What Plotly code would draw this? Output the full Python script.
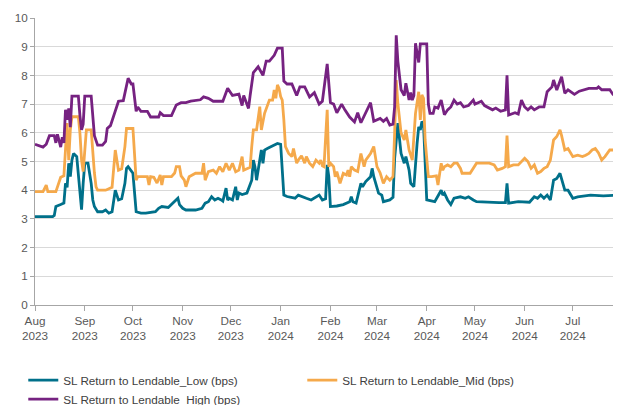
import plotly.graph_objects as go

# ---- data ----
dates_low = ["2023-08-01","2023-08-08","2023-08-12","2023-08-13","2023-08-14","2023-08-17","2023-08-19","2023-08-20","2023-08-21","2023-08-22","2023-08-23","2023-08-24","2023-08-25","2023-08-27","2023-08-28","2023-08-29","2023-08-30","2023-08-31","2023-09-01","2023-09-03","2023-09-05","2023-09-06","2023-09-07","2023-09-09","2023-09-12","2023-09-14","2023-09-16","2023-09-18","2023-09-20","2023-09-22","2023-09-24","2023-09-26","2023-09-27","2023-09-28","2023-09-30","2023-10-01","2023-10-03","2023-10-06","2023-10-09","2023-10-12","2023-10-15","2023-10-17","2023-10-19","2023-10-23","2023-10-26","2023-10-28","2023-10-29","2023-10-30","2023-11-01","2023-11-03","2023-11-09","2023-11-13","2023-11-15","2023-11-17","2023-11-19","2023-11-21","2023-11-23","2023-11-25","2023-11-26","2023-11-28","2023-11-29","2023-11-30","2023-12-02","2023-12-04","2023-12-05","2023-12-06","2023-12-08","2023-12-11","2023-12-14","2023-12-15","2023-12-16","2023-12-17","2023-12-19","2023-12-20","2023-12-21","2023-12-22","2023-12-24","2023-12-26","2023-12-28","2023-12-30","2024-01-01","2024-01-02","2024-01-03","2024-01-05","2024-01-10","2024-01-12","2024-01-14","2024-01-17","2024-01-20","2024-01-22","2024-01-25","2024-01-27","2024-01-29","2024-01-30","2024-01-31","2024-02-01","2024-02-05","2024-02-09","2024-02-13","2024-02-14","2024-02-15","2024-02-17","2024-02-20","2024-02-21","2024-02-23","2024-02-26","2024-02-27","2024-02-28","2024-03-01","2024-03-02","2024-03-04","2024-03-05","2024-03-09","2024-03-11","2024-03-12","2024-03-13","2024-03-14","2024-03-16","2024-03-18","2024-03-19","2024-03-21","2024-03-22","2024-03-24","2024-03-26","2024-03-27","2024-03-28","2024-03-29","2024-03-30","2024-03-31","2024-04-01","2024-04-06","2024-04-10","2024-04-11","2024-04-12","2024-04-14","2024-04-16","2024-04-18","2024-04-22","2024-04-25","2024-04-27","2024-04-30","2024-05-02","2024-05-16","2024-05-20","2024-05-21","2024-05-22","2024-05-28","2024-06-04","2024-06-07","2024-06-09","2024-06-11","2024-06-13","2024-06-15","2024-06-17","2024-06-19","2024-06-21","2024-06-23","2024-06-24","2024-06-25","2024-06-26","2024-06-28","2024-07-01","2024-07-04","2024-07-12","2024-07-20","2024-07-30","2024-07-31"]
low = [3.08,3.08,3.08,3.12,3.43,3.5,3.55,4.24,4.1,4.94,4.47,5.05,5.28,5.17,4.59,3.9,3.32,4.24,4.94,4.94,4.24,3.66,3.43,3.25,3.25,3.31,3.2,3.25,4.0,3.66,3.7,4.24,4.76,4.82,4.65,4.59,3.25,3.2,3.2,3.22,3.25,3.37,3.43,3.4,3.55,3.66,3.72,3.5,3.37,3.31,3.31,3.37,3.55,3.6,3.77,3.66,3.72,3.66,3.62,4.07,3.66,3.72,3.66,4.12,3.66,3.9,3.85,3.9,4.35,5.05,4.82,4.35,5.17,5.4,4.94,5.4,5.46,5.52,5.57,5.63,5.6,4.7,3.83,3.78,3.72,3.83,3.78,3.72,3.66,3.72,3.83,3.66,3.7,4.88,4.47,3.43,3.45,3.5,3.6,3.77,3.6,3.55,4.24,4.12,4.3,4.47,4.76,4.47,4.12,3.9,3.83,3.6,3.66,3.75,5.1,5.8,6.34,5.28,4.94,5.17,4.7,4.24,4.12,5.63,6.21,6.1,6.39,6.3,4.59,3.66,3.6,4.0,3.83,3.9,3.66,3.5,3.72,3.77,3.72,3.77,3.66,3.6,3.57,3.57,4.24,3.55,3.6,3.58,3.77,3.72,3.83,3.72,3.83,3.66,4.35,4.41,4.59,4.4,4.24,4.0,4.0,3.72,3.77,3.83,3.8,3.83,3.83]

dates_mid = ["2023-08-01","2023-08-06","2023-08-08","2023-08-09","2023-08-14","2023-08-17","2023-08-19","2023-08-20","2023-08-21","2023-08-22","2023-08-23","2023-08-24","2023-08-28","2023-08-29","2023-08-30","2023-08-31","2023-09-01","2023-09-02","2023-09-05","2023-09-06","2023-09-07","2023-09-08","2023-09-09","2023-09-14","2023-09-18","2023-09-20","2023-09-22","2023-09-24","2023-09-26","2023-09-27","2023-10-01","2023-10-03","2023-10-04","2023-10-10","2023-10-11","2023-10-12","2023-10-14","2023-10-16","2023-10-18","2023-10-19","2023-10-20","2023-10-25","2023-10-27","2023-10-28","2023-10-30","2023-10-31","2023-11-02","2023-11-03","2023-11-05","2023-11-09","2023-11-13","2023-11-14","2023-11-15","2023-11-17","2023-11-20","2023-11-22","2023-11-24","2023-11-26","2023-11-28","2023-11-30","2023-12-02","2023-12-04","2023-12-06","2023-12-08","2023-12-09","2023-12-11","2023-12-13","2023-12-14","2023-12-15","2023-12-17","2023-12-18","2023-12-19","2023-12-20","2023-12-21","2023-12-22","2023-12-25","2023-12-27","2023-12-28","2023-12-29","2023-12-30","2023-12-31","2024-01-01","2024-01-02","2024-01-03","2024-01-04","2024-01-06","2024-01-08","2024-01-09","2024-01-11","2024-01-12","2024-01-14","2024-01-16","2024-01-17","2024-01-19","2024-01-21","2024-01-23","2024-01-25","2024-01-26","2024-01-27","2024-01-28","2024-01-30","2024-01-31","2024-02-01","2024-02-03","2024-02-04","2024-02-05","2024-02-07","2024-02-09","2024-02-11","2024-02-12","2024-02-13","2024-02-14","2024-02-16","2024-02-18","2024-02-20","2024-02-22","2024-02-23","2024-02-26","2024-02-28","2024-03-01","2024-03-03","2024-03-05","2024-03-07","2024-03-09","2024-03-11","2024-03-12","2024-03-13","2024-03-14","2024-03-16","2024-03-18","2024-03-19","2024-03-21","2024-03-23","2024-03-25","2024-03-27","2024-03-28","2024-03-29","2024-03-30","2024-03-31","2024-04-02","2024-04-04","2024-04-07","2024-04-08","2024-04-10","2024-04-11","2024-04-12","2024-04-14","2024-04-16","2024-04-18","2024-04-20","2024-04-22","2024-04-23","2024-04-28","2024-05-02","2024-05-06","2024-05-10","2024-05-13","2024-05-15","2024-05-18","2024-05-20","2024-05-21","2024-05-22","2024-05-25","2024-05-28","2024-06-01","2024-06-03","2024-06-05","2024-06-07","2024-06-09","2024-06-11","2024-06-13","2024-06-15","2024-06-17","2024-06-19","2024-06-21","2024-06-23","2024-06-24","2024-06-26","2024-06-28","2024-07-01","2024-07-04","2024-07-07","2024-07-09","2024-07-11","2024-07-13","2024-07-15","2024-07-17","2024-07-19","2024-07-21","2024-07-24","2024-07-27","2024-07-30","2024-07-31"]
mid = [3.95,3.95,4.18,3.95,3.95,4.45,4.5,5.3,6.34,5.05,6.1,6.56,6.56,5.98,5.05,4.65,5.28,6.1,6.1,5.28,4.6,4.12,4.0,4.0,4.1,5.4,4.7,4.75,5.52,6.15,6.15,4.35,4.47,4.47,4.18,4.47,4.45,4.25,4.53,4.18,4.47,4.47,4.6,4.82,4.82,4.5,4.35,4.12,4.47,4.59,4.59,4.94,4.35,4.65,4.7,4.59,4.82,4.64,4.94,4.7,4.94,4.64,4.7,5.17,4.7,4.75,4.8,5.52,6.1,6.1,6.45,6.91,6.1,6.45,6.68,7.14,7.14,7.49,7.2,7.67,7.55,7.26,7.14,6.45,5.52,5.28,5.17,5.45,4.94,5.05,5.2,4.94,5.17,4.94,4.82,5.05,4.94,5.05,4.85,4.82,6.8,4.82,4.94,4.82,4.47,4.65,4.24,4.59,4.53,4.7,4.47,4.82,4.7,4.65,5.28,4.82,5.05,5.28,5.52,4.82,4.6,4.24,4.47,4.35,4.47,5.98,7.84,7.03,6.0,5.75,6.1,5.4,5.05,6.68,7.43,6.45,7.32,7.2,5.75,4.47,4.47,4.5,4.18,4.94,4.7,4.82,4.88,4.82,4.94,4.94,4.76,4.59,4.59,4.94,4.94,4.94,4.88,4.7,4.76,4.82,5.9,4.82,4.88,4.88,5.11,5.0,4.76,4.88,4.59,4.65,4.76,4.82,5.05,5.75,5.87,6.1,5.9,5.4,5.45,5.17,5.22,5.17,5.22,5.28,5.4,5.45,5.3,5.05,5.17,5.4,5.4,5.35,5.35]

dates_high = ["2023-08-01","2023-08-03","2023-08-06","2023-08-08","2023-08-10","2023-08-13","2023-08-14","2023-08-15","2023-08-17","2023-08-18","2023-08-19","2023-08-20","2023-08-21","2023-08-22","2023-08-23","2023-08-24","2023-08-28","2023-08-29","2023-08-30","2023-08-31","2023-09-01","2023-09-05","2023-09-06","2023-09-07","2023-09-09","2023-09-12","2023-09-14","2023-09-15","2023-09-17","2023-09-19","2023-09-21","2023-09-22","2023-09-25","2023-09-27","2023-09-28","2023-09-30","2023-10-01","2023-10-03","2023-10-04","2023-10-06","2023-10-10","2023-10-12","2023-10-17","2023-10-18","2023-10-20","2023-10-25","2023-10-28","2023-10-31","2023-11-03","2023-11-06","2023-11-12","2023-11-14","2023-11-17","2023-11-20","2023-11-26","2023-11-29","2023-12-02","2023-12-06","2023-12-08","2023-12-09","2023-12-12","2023-12-13","2023-12-15","2023-12-18","2023-12-21","2023-12-23","2023-12-25","2023-12-28","2023-12-30","2024-01-02","2024-01-03","2024-01-05","2024-01-08","2024-01-11","2024-01-13","2024-01-16","2024-01-19","2024-01-22","2024-01-25","2024-01-27","2024-01-30","2024-02-01","2024-02-03","2024-02-05","2024-02-08","2024-02-10","2024-02-13","2024-02-16","2024-02-18","2024-02-20","2024-02-26","2024-02-28","2024-03-03","2024-03-05","2024-03-07","2024-03-09","2024-03-11","2024-03-12","2024-03-13","2024-03-14","2024-03-16","2024-03-18","2024-03-19","2024-03-21","2024-03-22","2024-03-23","2024-03-24","2024-03-25","2024-03-27","2024-03-28","2024-04-01","2024-04-02","2024-04-03","2024-04-05","2024-04-06","2024-04-08","2024-04-10","2024-04-12","2024-04-14","2024-04-16","2024-04-18","2024-04-20","2024-04-22","2024-04-24","2024-04-27","2024-04-30","2024-05-01","2024-05-03","2024-05-05","2024-05-07","2024-05-10","2024-05-12","2024-05-14","2024-05-17","2024-05-20","2024-05-21","2024-05-22","2024-05-26","2024-05-28","2024-05-30","2024-06-01","2024-06-03","2024-06-05","2024-06-07","2024-06-10","2024-06-13","2024-06-15","2024-06-18","2024-06-19","2024-06-21","2024-06-24","2024-06-26","2024-06-28","2024-07-02","2024-07-05","2024-07-08","2024-07-11","2024-07-16","2024-07-17","2024-07-19","2024-07-24","2024-07-26","2024-07-28","2024-07-30","2024-07-31"]
high = [5.6,5.55,5.5,5.6,5.9,5.9,5.65,5.95,5.5,5.85,5.65,6.8,6.45,6.85,6.2,7.28,7.28,6.6,6.1,6.3,7.28,7.28,6.6,5.9,5.57,5.57,5.7,6.15,6.25,6.6,7.0,7.1,7.12,7.73,7.9,7.7,7.7,6.75,6.9,6.75,6.75,6.55,6.55,6.7,6.6,6.6,6.97,7.05,7.05,7.1,7.15,7.25,7.2,7.1,7.1,7.55,7.3,7.35,6.95,7.3,6.85,7.3,8.1,8.3,8.0,8.5,8.5,8.7,8.95,8.95,7.8,7.7,7.7,7.3,7.6,7.6,7.25,7.4,7.0,7.1,8.4,7.05,7.0,6.7,7.0,6.8,6.55,6.38,6.7,6.35,7.05,6.4,6.5,6.4,6.5,6.27,6.3,6.9,9.4,8.5,7.5,7.3,7.73,7.14,7.4,7.14,7.3,9.12,8.45,9.1,9.1,7.0,6.68,6.68,6.9,6.86,7.14,6.63,6.8,6.9,7.14,7.0,7.05,6.9,6.95,7.14,7.0,7.05,7.1,6.95,6.86,6.8,6.86,6.75,6.8,8.0,6.62,6.7,6.65,7.14,6.9,6.8,6.9,6.8,6.9,6.9,7.43,7.6,7.84,7.49,7.95,7.38,7.5,7.34,7.45,7.5,7.55,7.55,7.6,7.5,7.5,7.34,7.34,7.6,7.6]

month_ticks = ["2023-08-01","2023-09-01","2023-10-01","2023-11-01","2023-12-01","2024-01-01",
               "2024-02-01","2024-03-01","2024-04-01","2024-05-01","2024-06-01","2024-07-01"]
month_labels = ["Aug<br>2023","Sep<br>2023","Oct<br>2023","Nov<br>2023","Dec<br>2023","Jan<br>2024",
                "Feb<br>2024","Mar<br>2024","Apr<br>2024","May<br>2024","Jun<br>2024","Jul<br>2024"]
series_names = ["SL Return to Lendable_Low (bps)", "SL Return to Lendable_Mid (bps)",
                "SL Return to Lendable_High (bps)"]
colors = ["#00708A", "#F5A94B", "#762281"]

fig = go.Figure()
for xs, ys, name, col in zip([dates_low, dates_mid, dates_high], [low, mid, high], series_names, colors):
    fig.add_trace(go.Scatter(x=xs, y=ys, mode="lines", name=name,
                             line=dict(color=col, width=2.8, shape="linear")))

font_family = "Liberation Sans, Arial, sans-serif"
# the page body adds an 8 px offset, so the figure is sized/margined to compensate
fig.update_layout(
    width=613, height=397,
    margin=dict(l=27, r=0, t=10, b=100, autoexpand=False),
    paper_bgcolor="white", plot_bgcolor="white",
    font=dict(family=font_family, size=11.7, color="#595959"),
    showlegend=True,
    legend=dict(orientation="h", x=-0.02, y=-0.211,
                xanchor="left", yanchor="top", entrywidth=234, entrywidthmode="pixels",
                font=dict(size=11.7, color="#404040"), traceorder="normal",
                itemwidth=30, tracegroupgap=0),
)
fig.update_xaxes(range=["2023-08-01", "2024-07-31"], tickmode="array", tickvals=month_ticks,
                 ticktext=month_labels, showgrid=False, showline=True, linecolor="#A6A6A6",
                 linewidth=1, ticks="outside", ticklen=5, tickcolor="#A6A6A6", zeroline=False,
                 automargin=False)
fig.update_yaxes(range=[0, 10], dtick=1, showgrid=True, gridcolor="#D9D9D9", gridwidth=1,
                 showline=True, linecolor="#A6A6A6", linewidth=1, ticks="outside", ticklen=4,
                 tickcolor="#A6A6A6", zeroline=False, automargin=False)

fig.write_html("out.html")
